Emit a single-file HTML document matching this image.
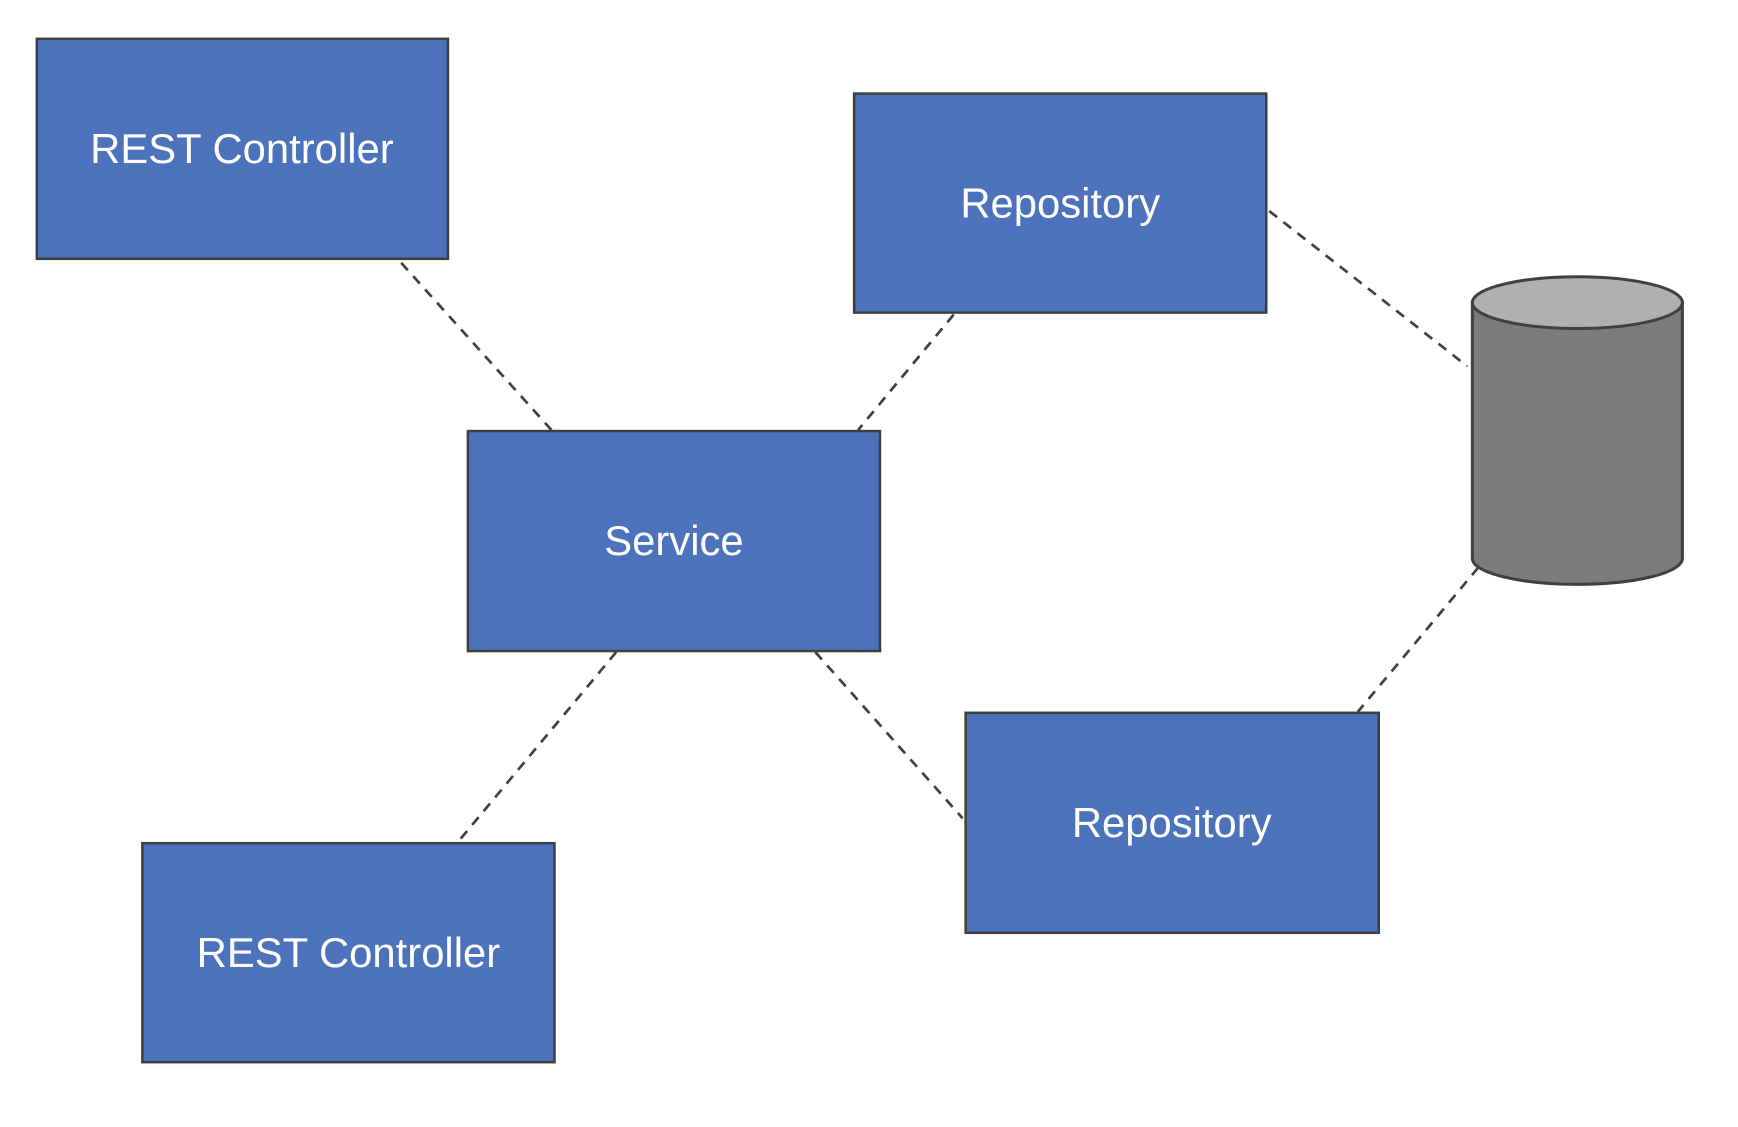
<!DOCTYPE html>
<html><head><style>body{margin:0;background:#fff}</style></head><body>
<svg width="1738" height="1122" xmlns="http://www.w3.org/2000/svg" font-family="Liberation Sans, sans-serif">
<g transform="scale(0.9955)">
<g stroke="#404040" stroke-width="2.7" stroke-dasharray="10,8" fill="none">
<line x1="403" y1="264" x2="554" y2="432"/>
<line x1="958" y1="316" x2="862" y2="432"/>
<line x1="1275" y1="212" x2="1474" y2="368"/>
<line x1="619" y1="655" x2="459" y2="847"/>
<line x1="819" y1="655" x2="967" y2="822"/>
<line x1="1485" y1="570" x2="1364" y2="715"/>
</g>
<g fill="#4c72bc" stroke="#3f3f3f" stroke-width="2.5">
<rect x="37" y="39" width="413" height="221"/>
<rect x="858" y="94" width="414" height="220"/>
<rect x="470" y="433" width="414" height="221"/>
<rect x="970" y="716" width="415" height="221"/>
<rect x="143" y="847" width="414" height="220"/>
</g>
<g fill="#fff" font-size="42" text-anchor="middle" dominant-baseline="central">
<text x="243" y="149">REST Controller</text>
<text x="1065" y="204">Repository</text>
<text x="677" y="543">Service</text>
<text x="1177" y="826">Repository</text>
<text x="350" y="957">REST Controller</text>
</g>
<g stroke="#404040" stroke-width="3">
<path d="M1479 304 V561 A105.5 26 0 0 0 1690 561 V304 Z" fill="#7b7b7b"/>
<ellipse cx="1584.5" cy="304" rx="105.5" ry="26" fill="#b0b0b0"/>
</g>
</g>
</svg>
</body></html>
